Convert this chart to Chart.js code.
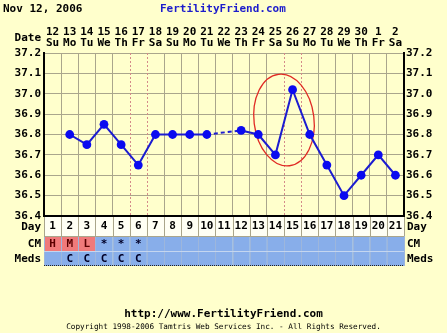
<!DOCTYPE html>
<html><head><meta charset="utf-8">
<script src="https://cdn.jsdelivr.net/npm/chart.js@4/dist/chart.umd.min.js"></script>
<style>html,body{margin:0;padding:0;background:#FFFFCC;}canvas{display:block}</style>
</head><body>
<canvas id="c" width="447" height="333"></canvas>
<script>
// ---- data ----
const chartTitle = "Nov 12, 2006";
const siteName = "FertilityFriend.com";
const footerUrl = "http://www.FertilityFriend.com";
const footerCopy = "Copyright 1998-2006 Tamtris Web Services Inc. - All Rights Reserved.";
const cycleDays = ["1","2","3","4","5","6","7","8","9","10","11","12","13","14","15","16","17","18","19","20","21"];
const dates = ["12","13","14","15","16","17","18","19","20","21","22","23","24","25","26","27","28","29","30","1","2"];
const weekdays = ["Su","Mo","Tu","We","Th","Fr","Sa","Su","Mo","Tu","We","Th","Fr","Sa","Su","Mo","Tu","We","Th","Fr","Sa"];
const temps = [null,36.8,36.75,36.85,36.75,36.65,36.8,36.8,36.8,36.8,null,36.82,36.8,36.7,37.02,36.8,36.65,36.5,36.6,36.7,36.6];
const cervicalMucus = ["H","M","L","*","*","*","","","","","","","","","","","","","","",""];
const meds = ["","C","C","C","C","C","","","","","","","","","","","","","","",""];
const tempMin = 36.4, tempMax = 37.2, tempStep = 0.1;
const markedBoundaries = [5, 6, 14, 15];          // dotted column edges
const circledNote = [13.5, 36.871, 1.75, 0.226];  // [day index, temp, x radius (days), y radius (deg)]

// ---- style ----
const BG = '#FFFFCC', GRID = '#aaa68c', BLUE = '#88AEEA', PINK = '#F07A7A';
const FAM = "'DejaVu Sans Mono', monospace";
const font = {family: FAM, size: 11, weight: 'bold', lineHeight: '11px'};

const tablePlugin = {
  id: 'table',
  beforeDraw(chart) {
    const c = chart.ctx, s = chart.scales, x = s.x;
    c.save();
    c.fillStyle = BG; c.fillRect(0, 0, chart.width, chart.height);
    const w = (x.right - x.left) / cycleDays.length;
    cycleDays.forEach((d, i) => {
      const l = x.getPixelForValue(i) - w / 2;
      c.fillStyle = '#FFFFF4'; c.fillRect(l, x.top, w, x.bottom - x.top);
      c.fillStyle = /[HML]/.test(cervicalMucus[i]) ? PINK : BLUE;
      c.fillRect(l, s.cm.top, w, s.cm.bottom - s.cm.top);
      c.fillStyle = BLUE; c.fillRect(l, s.meds.top, w, s.meds.bottom - s.meds.top);
    });
    c.lineWidth = 1;
    for (let i = 0; i <= cycleDays.length; i++) {
      const px = Math.round(x.left + i * w) + 0.5;
      c.strokeStyle = GRID;
      c.beginPath(); c.moveTo(px, x.top); c.lineTo(px, x.bottom); c.stroke();
      c.strokeStyle = '#9db6dc';
      c.beginPath(); c.moveTo(px, s.cm.top); c.lineTo(px, s.meds.bottom); c.stroke();
    }
    c.strokeStyle = GRID;
    c.beginPath(); c.moveTo(x.left, Math.round(x.bottom) + 0.5); c.lineTo(x.right, Math.round(x.bottom) + 0.5); c.stroke();
    c.strokeStyle = '#c4d6f0';
    c.beginPath(); c.moveTo(x.left, Math.round(s.cm.bottom) + 0.5); c.lineTo(x.right, Math.round(s.cm.bottom) + 0.5); c.stroke();
    c.strokeStyle = '#222'; c.setLineDash([1, 1]);
    c.beginPath(); c.moveTo(x.left, Math.round(s.meds.bottom) - 0.5); c.lineTo(x.right, Math.round(s.meds.bottom) - 0.5); c.stroke();
    c.restore();
  },
  beforeDatasetsDraw(chart) {
    const c = chart.ctx, x = chart.scales.x, y = chart.scales.y, a = chart.chartArea;
    const w = (x.right - x.left) / cycleDays.length;
    c.save();
    c.strokeStyle = '#d48a8a'; c.lineWidth = 1; c.setLineDash([2, 2]);
    markedBoundaries.forEach(b => {
      const px = Math.round(x.left + b * w) + 0.5;
      c.beginPath(); c.moveTo(px, a.top); c.lineTo(px, a.bottom); c.stroke();
    });
    c.setLineDash([]);
    const cx = x.getPixelForValue(circledNote[0]), cy = y.getPixelForValue(circledNote[1]);
    const rx = Math.abs(x.getPixelForValue(circledNote[0] + circledNote[2]) - cx);
    const ry = Math.abs(y.getPixelForValue(circledNote[1] + circledNote[3]) - cy);
    c.strokeStyle = '#e02a24'; c.lineWidth = 1.3;
    c.beginPath(); c.ellipse(cx, cy, rx, ry, -0.12, 0, Math.PI * 2); c.stroke();
    c.restore();
  },
  afterDraw(chart) {
    const c = chart.ctx, s = chart.scales, a = chart.chartArea;
    c.save();
    c.font = `bold 11px ${FAM}`; c.textBaseline = 'middle';
    c.fillStyle = '#000'; c.textAlign = 'left';
    c.fillText(chartTitle, 3, 9);
    c.fillStyle = '#1c1ccc'; c.fillText(siteName, 160, 9);
    c.fillStyle = '#000';
    c.textAlign = 'right'; c.fillText('Date', a.left - 3, 38);
    const rows = [['Day', s.x], ['CM', s.cm], ['Meds', s.meds]];
    rows.forEach(([t, sc]) => {
      const my = (sc.top + sc.bottom) / 2 + 1;
      c.textAlign = 'right'; c.fillText(t, a.left - 3, my);
      c.textAlign = 'left'; c.fillText(t, a.right + 3, my);
    });
    c.textAlign = 'center';
    c.fillText(footerUrl, chart.width / 2, 314);
    c.font = `7.7px ${FAM}`;
    c.fillText(footerCopy, chart.width / 2, 327);
    c.restore();
  }
};

const hidden = {display: false, drawTicks: false};
new Chart(document.getElementById('c'), {
  type: 'line',
  data: {
    labels: cycleDays,
    datasets: [{
      data: temps,
      xAxisID: 'x', yAxisID: 'y',
      borderColor: '#1c1cd0', borderWidth: 2,
      pointBackgroundColor: '#0a0af0', pointBorderColor: '#0a0af0', pointBorderWidth: 0,
      pointRadius: 4.4, spanGaps: true, tension: 0,
      segment: { borderDash: ctx => ((ctx.p0.skip || ctx.p1.skip) ? [4, 3] : undefined) }
    }]
  },
  options: {
    responsive: false, animation: false, devicePixelRatio: 1, events: [],
    layout: {padding: {top: 20, bottom: 67, left: 0, right: 0}},
    plugins: {legend: {display: false}, tooltip: {enabled: false}},
    scales: {
      x: {type: 'category', position: 'bottom', offset: true, weight: 0,
        grid: {offset: true, drawTicks: false, lineWidth: 1,
          color: ctx => markedBoundaries.includes(ctx.index) ? 'rgba(0,0,0,0)' : GRID},
        border: {color: '#000', width: 2},
        ticks: {autoSkip: false, maxRotation: 0, padding: 5, color: '#000', font},
        afterFit: sc => { sc.height = 20; }},
      cm: {type: 'category', labels: cervicalMucus, position: 'bottom', offset: true, weight: 1,
        grid: hidden, border: {display: false},
        ticks: {autoSkip: false, maxRotation: 0, padding: 2.5, font,
          color: ctx => /[HML]/.test(cervicalMucus[ctx.index]) ? '#5a0000' : '#000028'},
        afterFit: sc => { sc.height = 15; }},
      meds: {type: 'category', labels: meds, position: 'bottom', offset: true, weight: 2,
        grid: hidden, border: {display: false},
        ticks: {autoSkip: false, maxRotation: 0, padding: 2.5, font, color: '#000028'},
        afterFit: sc => { sc.height = 15; }},
      top: {type: 'category', labels: dates.map((d, i) => [d, weekdays[i]]), position: 'top', offset: true,
        grid: hidden, border: {display: false},
        ticks: {autoSkip: false, maxRotation: 0, padding: 4.5, font, color: '#000'},
        afterFit: sc => { sc.height = 33; }},
      y: {type: 'linear', position: 'left', min: tempMin, max: tempMax,
        grid: {color: GRID, drawTicks: false},
        border: {color: '#000', width: 2},
        ticks: {stepSize: tempStep, padding: 3, font, color: '#000', callback: v => v.toFixed(1)},
        afterFit: sc => { sc.width = 44; }},
      y2: {type: 'linear', position: 'right', min: tempMin, max: tempMax,
        grid: hidden, border: {color: '#000', width: 2},
        ticks: {stepSize: tempStep, padding: 2, font, color: '#000', callback: v => v.toFixed(1)},
        afterFit: sc => { sc.width = 43; }}
    }
  },
  plugins: [tablePlugin]
});
</script>
</body></html>
